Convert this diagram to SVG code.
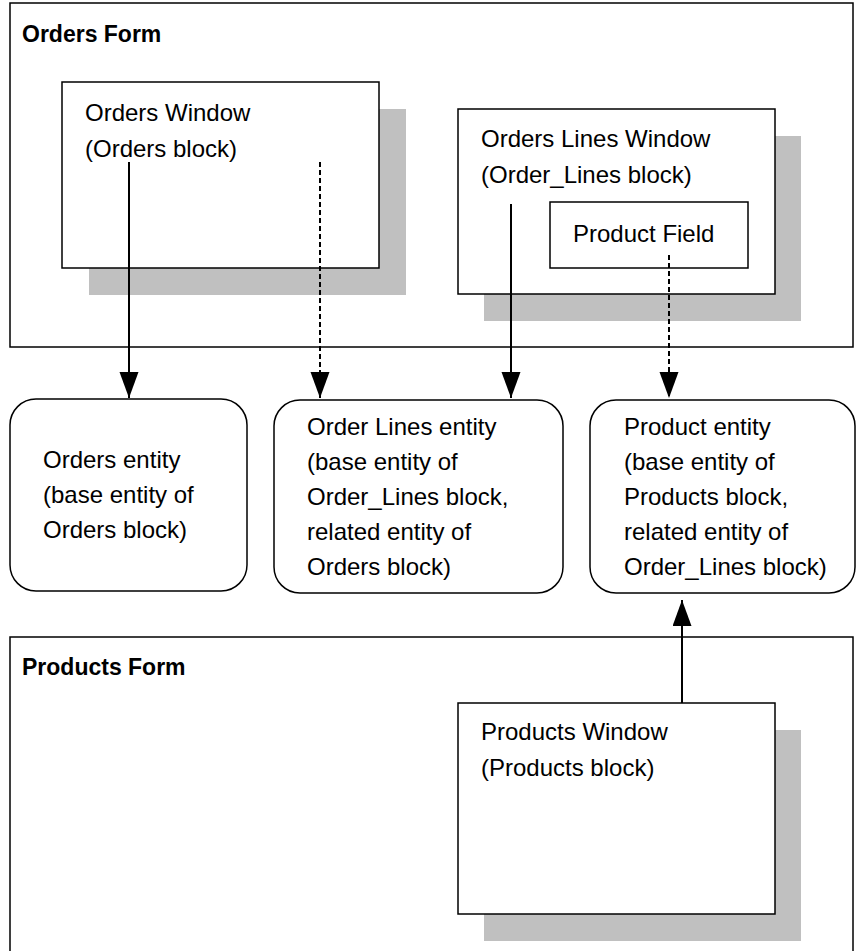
<svg xmlns="http://www.w3.org/2000/svg" width="859" height="951" viewBox="0 0 859 951">
<style>
.form{fill:#fff;stroke:#000;stroke-width:1.5}
.box{fill:#fff;stroke:#000;stroke-width:1.5}
.shadow{fill:#c0c0c0;stroke:none}
.title{font-family:"Liberation Sans",Arial,sans-serif;font-size:23px;font-weight:bold;fill:#000}
.t{font-family:"Liberation Sans",Arial,sans-serif;font-size:24px;fill:#000}
.line{stroke:#000;stroke-width:2;fill:none}
.dash{stroke-dasharray:5,3}
</style>
<defs>
<marker id="ah" markerUnits="userSpaceOnUse" markerWidth="27" markerHeight="20" refX="26" refY="9.5" orient="auto" viewBox="0 0 27 20">
<path d="M0,0 L26,9.5 L0,19 z" fill="#000"/>
</marker>
</defs>
<rect width="859" height="951" fill="#fff"/>
<g id="orders-form">
<rect class="form" x="10" y="3" width="843" height="344"/>
<text class="title" x="22" y="42">Orders Form</text>
</g>
<g id="orders-window">
<rect class="shadow" x="89" y="109" width="317" height="186"/>
<rect class="box" x="62" y="82" width="317" height="186"/>
<text class="t" x="85" y="121">Orders Window</text>
<text class="t" x="85" y="157">(Orders block)</text>
</g>
<g id="order-lines-window">
<rect class="shadow" x="484" y="136" width="317" height="185"/>
<rect class="box" x="458" y="109" width="317" height="185"/>
<text class="t" x="481" y="147">Orders Lines Window</text>
<text class="t" x="481" y="183">(Order_Lines block)</text>
</g>
<g id="product-field">
<rect class="box" x="550" y="202" width="198" height="66"/>
<text class="t" x="573" y="242">Product Field</text>
</g>
<g id="orders-entity">
<rect class="box" x="10" y="399" width="237" height="192" rx="26" ry="26"/>
<text class="t" x="43" y="468">Orders entity</text>
<text class="t" x="43" y="503">(base entity of</text>
<text class="t" x="43" y="538">Orders block)</text>
</g>
<g id="order-lines-entity">
<rect class="box" x="274" y="400" width="289" height="193" rx="26" ry="26"/>
<text class="t" x="307" y="435">Order Lines entity</text>
<text class="t" x="307" y="470">(base entity of</text>
<text class="t" x="307" y="505">Order_Lines block,</text>
<text class="t" x="307" y="540">related entity of</text>
<text class="t" x="307" y="575">Orders block)</text>
</g>
<g id="product-entity">
<rect class="box" x="590" y="400" width="265" height="193" rx="26" ry="26"/>
<text class="t" x="624" y="435">Product entity</text>
<text class="t" x="624" y="470">(base entity of</text>
<text class="t" x="624" y="505">Products block,</text>
<text class="t" x="624" y="540">related entity of</text>
<text class="t" x="624" y="575">Order_Lines block)</text>
</g>
<g id="products-form">
<rect class="form" x="10" y="637" width="843" height="330"/>
<text class="title" x="22" y="675">Products Form</text>
</g>
<g id="products-window">
<rect class="shadow" x="484" y="730" width="317" height="211"/>
<rect class="box" x="458" y="703" width="317" height="211"/>
<text class="t" x="481" y="740">Products Window</text>
<text class="t" x="481" y="776">(Products block)</text>
</g>
<g id="connectors">
<line class="line" x1="129" y1="162" x2="129" y2="398" marker-end="url(#ah)"/>
<line class="line dash" x1="320" y1="162" x2="320" y2="398" marker-end="url(#ah)"/>
<line class="line" x1="511" y1="204" x2="511" y2="398" marker-end="url(#ah)"/>
<line class="line dash" x1="669" y1="255" x2="669" y2="398" marker-end="url(#ah)"/>
<line class="line" x1="682" y1="703" x2="682" y2="600" marker-end="url(#ah)"/>
</g>
</svg>
